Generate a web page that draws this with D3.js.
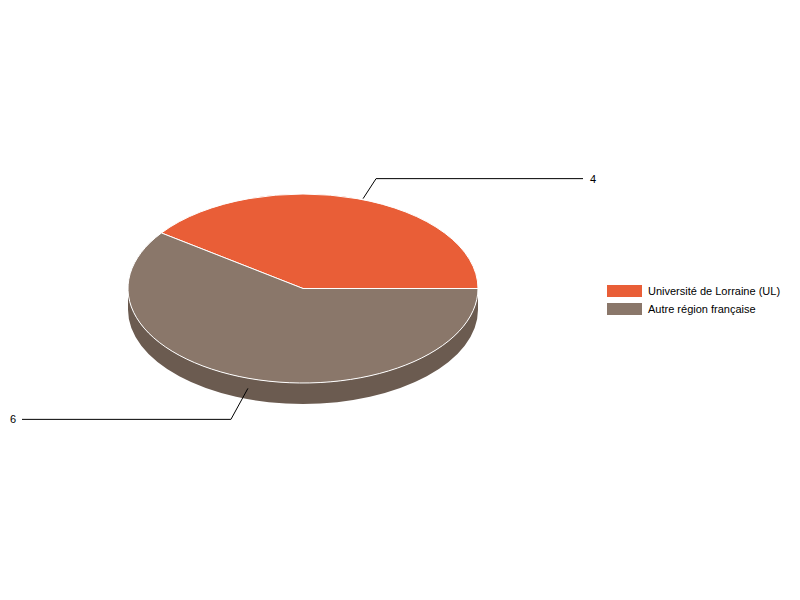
<!DOCTYPE html>
<html>
<head>
<meta charset="utf-8">
<script src="https://cdn.jsdelivr.net/npm/d3@7"></script>
<style>
  body { margin: 0; background: #fff; }
  text { font-family: "Liberation Sans", Arial, sans-serif; font-size: 11px; fill: #000; }
</style>
</head>
<body>
<svg id="chart" width="800" height="600"></svg>
<script>
// data
const categories = ["Université de Lorraine (UL)", "Autre région française"];
const values = [4, 6];
const colors = ["#e95e37", "#8a776a"];
const sideColors = ["#b5482a", "#6b5b50"];

const svg = d3.select("#chart");
const cx = 303, cy = 288.5, rx = 175, ry = 94.5, depth = 21;

// pie starts at 3 o'clock and runs counter-clockwise
const pie = d3.pie().sort(null).startAngle(Math.PI / 2).endAngle(Math.PI / 2 - 2 * Math.PI);
const arcs = pie(values);

const xScale = d3.scaleLinear().domain([-1, 1]).range([cx - rx, cx + rx]);
const yScale = d3.scaleLinear().domain([-1, 1]).range([cy - ry, cy + ry]);

// side wall (front half only, which is covered by the second slice)
const side = `M${xScale(1)},${yScale(0)} A${rx},${ry} 0 0 1 ${xScale(-1)},${yScale(0)}` +
    ` L${xScale(-1)},${yScale(0) + depth} A${rx},${ry} 0 0 0 ${xScale(1)},${yScale(0) + depth} Z`;
svg.append("path")
    .attr("d", side)
    .attr("fill", sideColors[1]);

// top faces
const arc = d3.arc().innerRadius(0).outerRadius(rx);
svg.append("g")
    .attr("transform", `translate(${cx},${cy}) scale(1,${ry / rx})`)
    .selectAll("path")
    .data(arcs)
    .enter().append("path")
    .attr("d", arc)
    .attr("fill", (d, i) => colors[i])
    .attr("stroke", "#fff")
    .attr("stroke-width", 1)
    .attr("vector-effect", "non-scaling-stroke");

// value labels with leader lines
const labelLayout = [
    { shift: 6, dx: 13, dy: -20, endX: 583, textX: 590, drop: 0 },
    { shift: -1, dx: -17, dy: 31, endX: 22, textX: 10, drop: 10 }
];
arcs.forEach((d, i) => {
    const mid = (d.startAngle + d.endAngle) / 2;
    const x0 = xScale(Math.sin(mid)) + labelLayout[i].shift;
    const y0 = yScale(-Math.cos(mid)) + labelLayout[i].drop;
    const x1 = x0 + labelLayout[i].dx, y1 = y0 + labelLayout[i].dy;
    svg.append("polyline")
        .attr("points", `${x0},${y0} ${x1},${y1} ${labelLayout[i].endX},${y1}`)
        .attr("fill", "none")
        .attr("stroke", "#000")
        .attr("stroke-width", 1);
    svg.append("text")
        .attr("x", labelLayout[i].textX)
        .attr("y", y1 + 4)
        .text(values[i]);
});

// legend
const legend = svg.append("g")
    .attr("transform", "translate(607,285)")
    .selectAll("g")
    .data(categories)
    .enter().append("g")
    .attr("transform", (d, i) => `translate(0,${i * 18})`);
legend.append("rect")
    .attr("width", 35)
    .attr("height", 12)
    .attr("fill", (d, i) => colors[i]);
legend.append("text")
    .attr("x", 41)
    .attr("y", 10)
    .text(d => d);
</script>
</body>
</html>
